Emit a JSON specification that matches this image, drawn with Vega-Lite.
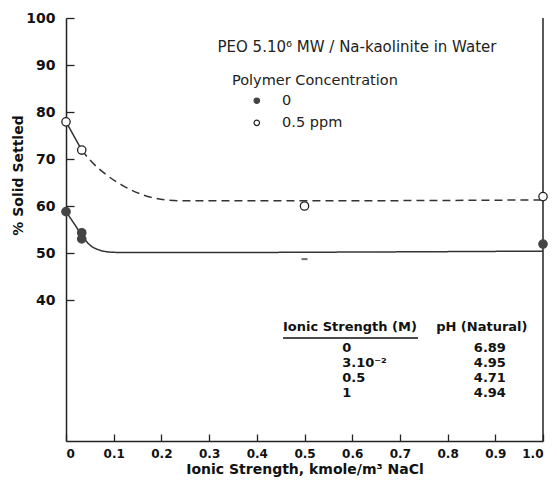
{
  "$schema": "https://vega.github.io/schema/vega-lite/v6.json",
  "width": 477,
  "height": 423,
  "autosize": {"type": "none"},
  "padding": {"left": 66, "top": 18, "right": 14, "bottom": 44},
  "background": "white",
  "config": {
    "view": {"stroke": null},
    "font": "DejaVu Sans",
    "axis": {"grid": false, "domainColor": "#222", "tickColor": "#222", "domainWidth": 1.5, "tickWidth": 1.3, "labelColor": "#111", "titleColor": "#111"}
  },
  "datasets": {
    "curves": [
      {"curve": "open_solid", "x": 0, "y": 77.9},
      {"curve": "open_solid", "x": 0.033, "y": 71.9},
      {"curve": "open_dashed", "x": 0.033, "y": 71.9},
      {"curve": "open_dashed", "x": 0.05, "y": 69.8},
      {"curve": "open_dashed", "x": 0.085, "y": 66.6},
      {"curve": "open_dashed", "x": 0.12, "y": 64.3},
      {"curve": "open_dashed", "x": 0.155, "y": 62.6},
      {"curve": "open_dashed", "x": 0.19, "y": 61.6},
      {"curve": "open_dashed", "x": 0.24, "y": 61.1},
      {"curve": "open_dashed", "x": 0.5, "y": 61.1},
      {"curve": "open_dashed", "x": 1.0, "y": 61.3},
      {"curve": "filled_solid", "x": 0, "y": 58.8},
      {"curve": "filled_solid", "x": 0.01, "y": 57.3},
      {"curve": "filled_solid", "x": 0.02, "y": 55.8},
      {"curve": "filled_solid", "x": 0.033, "y": 53.8},
      {"curve": "filled_solid", "x": 0.05, "y": 51.7},
      {"curve": "filled_solid", "x": 0.071, "y": 50.6},
      {"curve": "filled_solid", "x": 0.092, "y": 50.2},
      {"curve": "filled_solid", "x": 0.12, "y": 50.1},
      {"curve": "filled_solid", "x": 0.3, "y": 50.1},
      {"curve": "filled_solid", "x": 0.6, "y": 50.2},
      {"curve": "filled_solid", "x": 1.0, "y": 50.4}
    ],
    "points": [
      {"conc": "0", "x": 0, "y": 58.8},
      {"conc": "0", "x": 0.033, "y": 54.3},
      {"conc": "0", "x": 0.033, "y": 53.0},
      {"conc": "0", "x": 1.0, "y": 51.9},
      {"conc": "0.5 ppm", "x": 0, "y": 77.9},
      {"conc": "0.5 ppm", "x": 0.033, "y": 71.9},
      {"conc": "0.5 ppm", "x": 0.5, "y": 60.0},
      {"conc": "0.5 ppm", "x": 1.0, "y": 62.0}
    ],
    "legendPts": [
      {"conc": "0", "x": 0.4, "y": 82.4},
      {"conc": "0.5 ppm", "x": 0.4, "y": 77.7}
    ],
    "notesLeft": [
      {"text": "Polymer Concentration", "x": 0.348, "y": 86.7},
      {"text": "0", "x": 0.453, "y": 82.4},
      {"text": "0.5 ppm", "x": 0.453, "y": 77.7}
    ],
    "title": [
      {"text": "PEO 5.10⁶ MW / Na-kaolinite in Water", "x": 0.61, "y": 93.9}
    ],
    "table": [
      {"text": "Ionic Strength (M)", "x": 0.455, "y": 34.3},
      {"text": "pH (Natural)", "x": 0.776, "y": 34.3},
      {"text": "0", "x": 0.579, "y": 29.8},
      {"text": "3.10⁻²", "x": 0.579, "y": 26.6},
      {"text": "0.5", "x": 0.579, "y": 23.4},
      {"text": "1", "x": 0.579, "y": 20.2},
      {"text": "6.89", "x": 0.855, "y": 29.8},
      {"text": "4.95", "x": 0.855, "y": 26.6},
      {"text": "4.71", "x": 0.855, "y": 23.4},
      {"text": "4.94", "x": 0.855, "y": 20.2}
    ]
  },
  "layer": [
    {
      "data": {"name": "curves"},
      "mark": {"type": "line", "interpolate": "monotone", "color": "#333", "strokeWidth": 1.5},
      "encoding": {
        "x": {"field": "x", "type": "quantitative", "scale": {"domain": [0, 1], "nice": false, "zero": false},
          "axis": {"values": [0, 0.1, 0.2, 0.3, 0.4, 0.5, 0.6, 0.7, 0.8, 0.9, 1.0], "labelExpr": "datum.value == 0 ? '0' : format(datum.value, '.1f')", "tickSize": -7, "labelPadding": 14, "labelFontSize": 12, "labelFontWeight": "bold", "title": "Ionic Strength, kmole/m³ NaCl", "titleFontSize": 14, "titleFontWeight": "bold", "titlePadding": 3}},
        "y": {"field": "y", "type": "quantitative", "scale": {"domain": [10, 100], "nice": false, "zero": false},
          "axis": {"values": [40, 50, 60, 70, 80, 90, 100], "tickSize": -8, "labelPadding": 19, "labelFontSize": 14, "labelFontWeight": "bold", "title": "% Solid Settled", "titleFontSize": 14, "titleFontWeight": "bold", "titleX": -48, "titleY": 157, "titleAngle": 270, "titleAlign": "center", "titleBaseline": "middle"}},
        "detail": {"field": "curve"},
        "strokeDash": {"field": "curve", "type": "nominal", "scale": {"domain": ["open_solid", "open_dashed", "filled_solid"], "range": [[1, 0], [8, 5], [1, 0]]}, "legend": null}
      }
    },
    {
      "data": {"values": [{"x": 1.0, "y": 10, "y2": 100}]},
      "mark": {"type": "rule", "color": "#222", "strokeWidth": 1.5},
      "encoding": {"x": {"field": "x", "type": "quantitative"}, "y": {"field": "y", "type": "quantitative"}, "y2": {"field": "y2"}}
    },
    {
      "data": {"name": "points"},
      "mark": {"type": "point", "shape": "circle", "size": 70, "strokeWidth": 1.3, "opacity": 1},
      "encoding": {
        "x": {"field": "x", "type": "quantitative"},
        "y": {"field": "y", "type": "quantitative"},
        "fill": {"field": "conc", "type": "nominal", "scale": {"domain": ["0", "0.5 ppm"], "range": ["#444", "white"]}, "legend": null},
        "stroke": {"field": "conc", "type": "nominal", "scale": {"domain": ["0", "0.5 ppm"], "range": ["#444", "#222"]}, "legend": null}
      }
    },
    {
      "data": {"values": [{"x": 0.5, "y": 48.7}]},
      "mark": {"type": "tick", "orient": "horizontal", "size": 6, "thickness": 2, "color": "#333"},
      "encoding": {"x": {"field": "x", "type": "quantitative"}, "y": {"field": "y", "type": "quantitative"}}
    },
    {
      "data": {"name": "legendPts"},
      "mark": {"type": "point", "shape": "circle", "size": 30, "strokeWidth": 1.2, "opacity": 1},
      "encoding": {
        "x": {"field": "x", "type": "quantitative"},
        "y": {"field": "y", "type": "quantitative"},
        "fill": {"field": "conc", "type": "nominal", "legend": null},
        "stroke": {"field": "conc", "type": "nominal", "legend": null}
      }
    },
    {
      "data": {"name": "title"},
      "mark": {"type": "text", "fontSize": 15, "color": "#222", "baseline": "middle", "align": "center"},
      "encoding": {
        "x": {"field": "x", "type": "quantitative"},
        "y": {"field": "y", "type": "quantitative"},
        "text": {"field": "text"}
      }
    },
    {
      "data": {"name": "notesLeft"},
      "mark": {"type": "text", "fontSize": 14.5, "color": "#222", "baseline": "middle", "align": "left"},
      "encoding": {
        "x": {"field": "x", "type": "quantitative"},
        "y": {"field": "y", "type": "quantitative"},
        "text": {"field": "text"}
      }
    },
    {
      "data": {"name": "table"},
      "mark": {"type": "text", "fontSize": 13, "fontWeight": "bold", "color": "#111", "baseline": "middle", "align": "left"},
      "encoding": {
        "x": {"field": "x", "type": "quantitative"},
        "y": {"field": "y", "type": "quantitative"},
        "text": {"field": "text"}
      }
    },
    {
      "data": {"values": [{"x": 0.455, "x2": 0.738, "y": 31.9}]},
      "mark": {"type": "rule", "color": "#111", "strokeWidth": 1.5},
      "encoding": {"x": {"field": "x", "type": "quantitative"}, "x2": {"field": "x2"}, "y": {"field": "y", "type": "quantitative"}}
    }
  ]
}
